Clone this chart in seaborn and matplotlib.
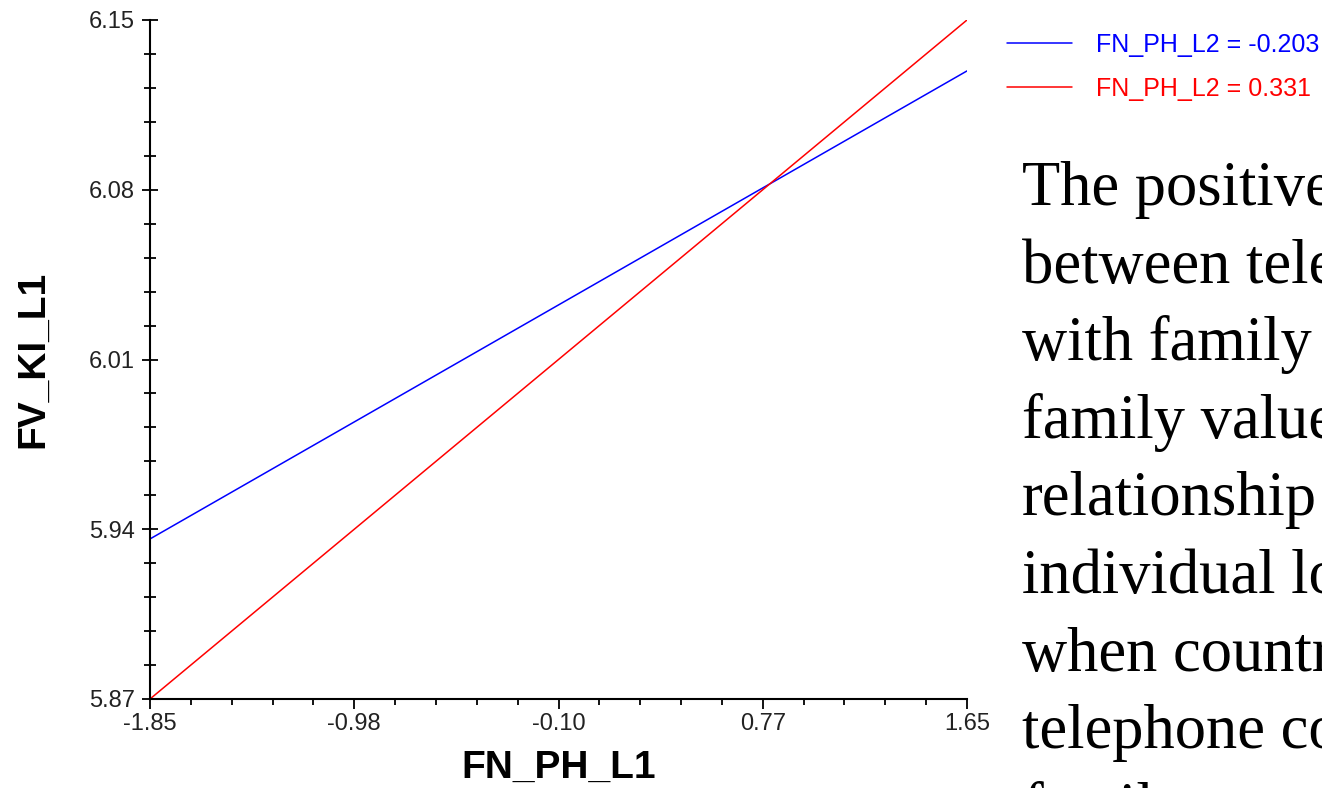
import matplotlib
matplotlib.use("Agg")
import matplotlib.pyplot as plt
from matplotlib.ticker import AutoMinorLocator
import seaborn as sns
import pandas as pd

# values
x_vals = [-1.85, 1.65]
blue_vals = [5.936, 6.129]
red_vals = [5.87, 6.15]
series = ["FN_PH_L2 = -0.203", "FN_PH_L2 = 0.331"]
colors = {series[0]: "#0000ff", series[1]: "#ff0000"}

x_ticks = [-1.85, -0.975, -0.10, 0.775, 1.65]
x_tick_labels = ["-1.85", "-0.98", "-0.10", "0.77", "1.65"]
y_ticks = [5.87, 5.94, 6.01, 6.08, 6.15]
y_tick_labels = ["5.87", "5.94", "6.01", "6.08", "6.15"]

side_text = ["The positive relationship", "between telephone", "with family ties",
             "family values", "relationship", "individual loyalty", "when country",
             "telephone contact", "family"]

df = pd.DataFrame({
    "FN_PH_L1": x_vals * 2,
    "FV_KI_L1": blue_vals + red_vals,
    "group": [series[0]] * 2 + [series[1]] * 2,
})

sns.set_style("white")
plt.rcParams["font.family"] = ["Liberation Sans", "DejaVu Sans"]
plt.rcParams["text.color"] = "black"
plt.rcParams["axes.labelcolor"] = "black"

W, H = 1322, 788
fig = plt.figure(figsize=(W / 100, H / 100), dpi=100)
ax = fig.add_axes([150 / W, 1 - 699 / H, 817 / W, 679 / H])

sns.lineplot(data=df, x="FN_PH_L1", y="FV_KI_L1", hue="group", palette=colors,
             linewidth=1.1, ax=ax, legend=False)

ax.set_xlim(x_vals[0], x_vals[-1])
ax.set_ylim(y_ticks[0], y_ticks[-1])
ax.set_xticks(x_ticks)
ax.set_xticklabels(x_tick_labels)
ax.set_yticks(y_ticks)
ax.set_yticklabels(y_tick_labels)
ax.xaxis.set_minor_locator(AutoMinorLocator(5))
ax.yaxis.set_minor_locator(AutoMinorLocator(5))

for s in ["top", "right"]:
    ax.spines[s].set_visible(False)
for s in ["left", "bottom"]:
    ax.spines[s].set_linewidth(1.5)
    ax.spines[s].set_color("black")

ax.tick_params(which="both", bottom=True, left=True, top=False, right=False)
ax.tick_params(axis="x", which="major", direction="out", length=7, width=1.3,
               labelsize=17, pad=3, colors="black", labelcolor="#222222")
ax.tick_params(axis="x", which="minor", direction="out", length=4, width=1.3, colors="black")
ax.tick_params(axis="y", which="major", direction="inout", length=12, width=1.3,
               labelsize=17, pad=5, colors="black", labelcolor="#222222")
ax.tick_params(axis="y", which="minor", direction="inout", length=8, width=1.3, colors="black")

ax.set_xlabel("FN_PH_L1", fontsize=28, fontweight="bold", labelpad=11)
ax.set_ylabel("FV_KI_L1", fontsize=28, fontweight="bold", labelpad=27)
ax.grid(False)

handles = [plt.Line2D([], [], color=colors[s], linewidth=1.1) for s in series]
fig.legend(handles, series, loc="upper left", bbox_to_anchor=(1007 / W, 1 - 33 / H),
           frameon=False, fontsize=18, handlelength=2.6, handletextpad=0.95,
           labelspacing=0.8, borderpad=0, borderaxespad=0, labelcolor="linecolor")

for i, line in enumerate(side_text):
    fig.text(1022 / W, 1 - (205 + i * 77.6) / H, line, fontsize=45, color="black",
             family=["Liberation Serif", "DejaVu Serif"], va="baseline", ha="left")

fig.savefig("out.png", dpi=100)
